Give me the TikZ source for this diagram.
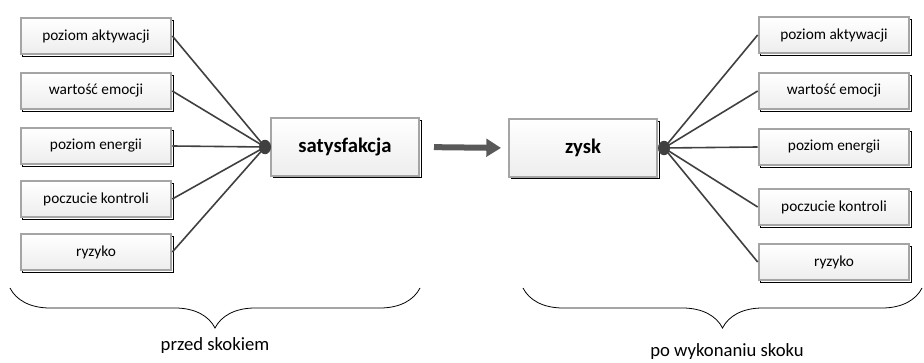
\documentclass[tikz,border=0pt]{standalone}
\usepackage{fontspec}
\setmainfont{Carlito}
\usepackage{xcolor}
\usetikzlibrary{shadows}
\usetikzlibrary{arrows.meta}
\usetikzlibrary{decorations.pathreplacing}

\definecolor{ramka}{RGB}{165,165,165}
\definecolor{linia}{RGB}{64,64,64}
\definecolor{strzalka}{RGB}{89,89,89}

\tikzset{
  czynnik/.style={rectangle, draw=ramka, line width=1.5pt, top color=white, bottom color=gray!14,
    general shadow={shadow xshift=1.6pt, shadow yshift=-1.6pt, draw=black, fill=white, line width=0.6pt},
    minimum width=113pt, minimum height=27pt, inner sep=0pt, font=\fontsize{11.5}{13}\selectfont},
  glowny/.style={czynnik, minimum width=111pt, minimum height=43pt, font=\fontsize{15.5}{18}\selectfont\bfseries},
  wiazka/.style={draw=linia, line width=1.2pt},
  wezel/.style={fill=linia, draw=none},
  gruba/.style={draw=strzalka, line width=4.5pt, -{Triangle[length=11pt, width=13pt]}},
  klamra/.style={decorate, decoration={brace, mirror, amplitude=30pt}, line width=0.6pt},
  podpis/.style={font=\fontsize{14}{16}\selectfont}
}

\begin{document}
\begin{tikzpicture}[x=0.75pt,y=0.75pt,yscale=-1,xscale=1]
\path[use as bounding box] (0,0) rectangle (924,363);

%Shape: Rectangle - przed skokiem
\node[czynnik] (aktL) at (96,36) {poziom aktywacji};
\node[czynnik] (emoL) at (96,91) {wartość emocji};
\node[czynnik] (enerL) at (96,146) {poziom energii};
\node[czynnik] (kontL) at (96,199) {poczucie kontroli};
\node[czynnik] (ryzL) at (96,252) {ryzyko};
\node[glowny] (sat) at (345,147) {satysfakcja};

%Shape: Rectangle - po wykonaniu skoku
\node[glowny] (zysk) at (583,148) {zysk};
\node[czynnik] (aktR) at (834,35) {poziom aktywacji};
\node[czynnik] (emoR) at (834,91) {wartość emocji};
\node[czynnik] (enerR) at (834,147) {poziom energii};
\node[czynnik] (kontR) at (834,207) {poczucie kontroli};
\node[czynnik] (ryzR) at (834,262) {ryzyko};

\coordinate (hubL) at ([xshift=-3.75pt]sat.west);
\coordinate (hubR) at ([xshift=4.5pt]zysk.east);

%Straight Lines
\foreach \b in {aktL,emoL,enerL,kontL,ryzL}
  \draw[wiazka] (\b.east) -- (hubL);
\foreach \b in {aktR,emoR,enerR,kontR,ryzR}
  \draw[wiazka] (hubR) -- (\b.west);
\fill[wezel] (hubL) ellipse (4.5pt and 5.4pt);
\fill[wezel] (hubR) ellipse (4.5pt and 5.4pt);

%Straight Lines [arrow]
\draw[gruba, shorten <=10.5pt, shorten >=5.25pt] (sat.east) -- (zysk.west);

%Curve Lines [braces]
\draw[klamra] (10,288) -- (420,288);
\draw[klamra] (523,288) -- (922,288);

% Text Node
\node[podpis] (przed) at (215,346) {przed skokiem};
% Text Node
\node[podpis] (po) at (727,352) {po wykonaniu skoku};

\end{tikzpicture}
\end{document}
